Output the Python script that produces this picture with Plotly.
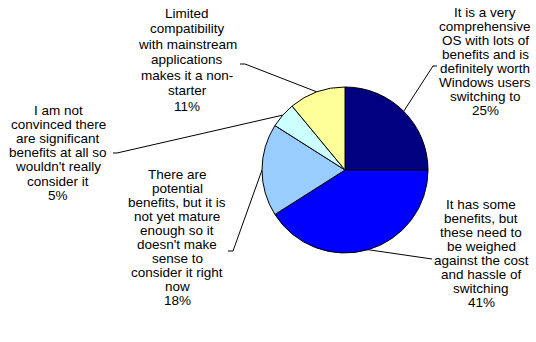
import math
import plotly.graph_objects as go

W, H = 536, 342

# ---- data ----
categories = [
    "It is a very comprehensive OS with lots of benefits and is definitely worth Windows users switching to",
    "It has some benefits, but these need to be weighed against the cost and hassle of switching",
    "There are potential benefits, but it is not yet mature enough so it doesn't make sense to consider it right now",
    "I am not convinced there are significant benefits at all so wouldn't really consider it",
    "Limited compatibility with mainstream applications makes it a non-starter",
]
values = [25, 41, 18, 5, 11]
label_lines = [
    ["It is a very", "comprehensive", "OS with lots of", "benefits and is", "definitely worth", "Windows users", "switching to"],
    ["It has some", "benefits, but", "these need to", "be weighed", "against the cost", "and hassle of", "switching"],
    ["There are", "potential", "benefits, but it is", "not yet mature", "enough so it", "doesn't make", "sense to", "consider it right", "now"],
    ["I am not", "convinced there", "are significant", "benefits at all so", "wouldn't really", "consider it"],
    ["Limited", "compatibility", "with mainstream", "applications", "makes it a non-", "starter"],
]
colors = ["#000080", "#0000FF", "#99CCFF", "#CCFFFF", "#FFFF99"]

# ---- layout (pixel positions) ----
cx, cy, r = 345, 170, 83
label_cx = [485, 481, 177, 58, 187]
label_top = [12, 204, 174, 110, 13]
pitches = [14.0, 14.0, 14.0, 14.2, 15.5]
# leader bend point (at label) and tick end
bend = [(433, 66), (428, 259), (233, 251), (117, 153), (245, 64)]
tick = [(437, 66), (432, 259), (228, 251), (113, 153), (240, 64)]
font = dict(family="Liberation Sans, Arial, sans-serif", size=13.5, color="black")

fig = go.Figure()

fig.add_trace(go.Pie(
    values=values, labels=categories, sort=False, direction="clockwise", rotation=0,
    marker=dict(colors=colors, line=dict(color="black", width=1)),
    textinfo="none", hoverinfo="label+percent", showlegend=False,
    domain=dict(x=[(cx - r) / W, (cx + r) / W], y=[1 - (cy + r) / H, 1 - (cy - r) / H]),
))

total = sum(values)
cum = 0
annotations = []
for i, v in enumerate(values):
    mid = (cum + v / 2) / total * 2 * math.pi
    cum += v
    ex = cx + r * math.sin(mid)
    ey = cy - r * math.cos(mid)
    fig.add_trace(go.Scatter(
        x=[ex, bend[i][0], tick[i][0]], y=[ey, bend[i][1], tick[i][1]],
        mode="lines", line=dict(color="black", width=1), hoverinfo="skip", showlegend=False,
    ))
    lines = label_lines[i] + [f"{round(v / total * 100)}%"]
    for j, t in enumerate(lines):
        annotations.append(dict(
            x=label_cx[i], y=label_top[i] + j * pitches[i], xref="x", yref="y",
            text=t, showarrow=False, xanchor="center", yanchor="middle", font=font,
        ))

fig.update_layout(
    width=W, height=H, margin=dict(l=0, r=0, t=0, b=0),
    paper_bgcolor="white", plot_bgcolor="white",
    xaxis=dict(range=[0, W], visible=False, fixedrange=True),
    yaxis=dict(range=[H, 0], visible=False, fixedrange=True),
    annotations=annotations,
    showlegend=False,
)

fig.write_html("out.html")
